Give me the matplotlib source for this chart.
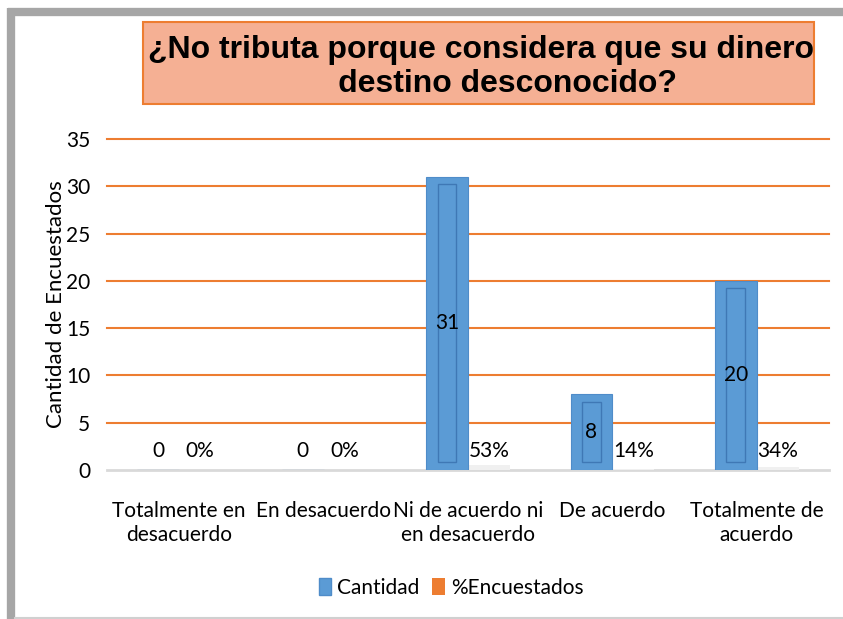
import matplotlib
matplotlib.use("Agg")
import matplotlib.pyplot as plt
from matplotlib.patches import Rectangle, Patch
from matplotlib.lines import Line2D
import numpy as np

categories = ["Totalmente en\ndesacuerdo", "En desacuerdo", "Ni de acuerdo ni\nen desacuerdo",
              "De acuerdo", "Totalmente de\nacuerdo"]
cantidad = [0, 0, 31, 8, 20]
porcentaje = [0, 0, 53, 14, 34]
yticks = [0, 5, 10, 15, 20, 25, 30, 35]
title = "¿No tributa porque considera que su dinero\n      destino desconocido?"

plt.rcParams['font.family'] = ['Lato', 'DejaVu Sans']

W, H = 843, 619
fig = plt.figure(figsize=(W / 100, H / 100), dpi=100)
fig.patch.set_facecolor('white')

# outer frame (left and top thick gray, bottom thin light gray)
fig.lines.append(Line2D([11 / W, 11 / W], [0.3 / H, 1 - 8 / H], transform=fig.transFigure,
                        color='#a6a6a6', linewidth=6, solid_capstyle='butt'))
fig.lines.append(Line2D([8 / W, 1.0], [1 - 12 / H, 1 - 12 / H], transform=fig.transFigure,
                        color='#a6a6a6', linewidth=6, solid_capstyle='butt'))
fig.lines.append(Line2D([15 / W, 1.0], [1.2 / H, 1.2 / H], transform=fig.transFigure,
                        color='#d0d0d0', linewidth=1.5))

ax = fig.add_axes([107 / W, 1 - 470 / H, (829 - 107) / W, (470 - 139) / H])
ax.set_ylim(0, 35)
ax.set_xlim(-0.5, len(categories) - 0.5)
x = np.arange(len(categories))
bw = 0.29

blue = '#5b9bd5'
ax.bar(x - bw / 2, cantidad, width=bw, color=blue, edgecolor='#4f8cc9', linewidth=0.8, zorder=3)
# bevel inner outline
for xi, v in zip(x, cantidad):
    if v > 0:
        ax.bar(xi - bw / 2, v - 1.6, bottom=0.8, width=bw * 0.45, color='none',
               edgecolor='#3f78b5', linewidth=1.0, zorder=4)
# percentage series (tiny, shows only as faint shadow)
ax.bar(x + bw / 2, [p / 100 for p in porcentaje], width=bw, color='#f0f0f0', zorder=2)

for xi, v in zip(x, cantidad):
    ypos = v / 2 if v > 0 else 2
    ax.text(xi - bw / 2, ypos, f"{v}", ha='center', va='center', fontsize=15, zorder=5)
for xi, p in zip(x, porcentaje):
    ax.text(xi + bw / 2, 2, f"{p}%", ha='center', va='center', fontsize=15, zorder=5)

ax.set_yticks(yticks)
for t in yticks[1:]:
    ax.axhline(t, color='#ed7d31', linewidth=1.5, zorder=1, clip_on=False)
ax.axhline(0, color='#d9d9d9', linewidth=2, zorder=1, clip_on=False)
ax.tick_params(axis='y', length=0, labelsize=15, pad=12)
ax.tick_params(axis='x', length=0, pad=22)
ax.set_xticks(x)
ax.set_xticklabels(categories, linespacing=1.25, fontsize=15)
for s in ax.spines.values():
    s.set_visible(False)
ax.set_ylabel("Cantidad de Encuestados", fontsize=16, labelpad=0)

handles = [Patch(facecolor=blue, edgecolor='#4f8cc9'), Patch(facecolor='#ed7d31')]
fig.legend(handles, ["Cantidad", "%Encuestados"], loc='center', bbox_to_anchor=(451 / W, 1 - 588 / H),
           ncol=2, frameon=False, fontsize=15, handlelength=0.6, handleheight=0.9,
           handletextpad=0.3, columnspacing=0.6)

# title box
fig.patches.append(Rectangle((143 / W, 1 - 104 / H), (814 - 143) / W, (104 - 22) / H,
                             transform=fig.transFigure, facecolor='#f5b094', edgecolor='#ed7d31',
                             linewidth=1.5, zorder=2))
fig.text(481 / W, 1 - 67 / H, title, ha='center', va='center', fontsize=23, fontweight='bold',
         family=['Liberation Sans', 'DejaVu Sans'], linespacing=1.2, zorder=3)

fig.savefig("out.png", dpi=100)
